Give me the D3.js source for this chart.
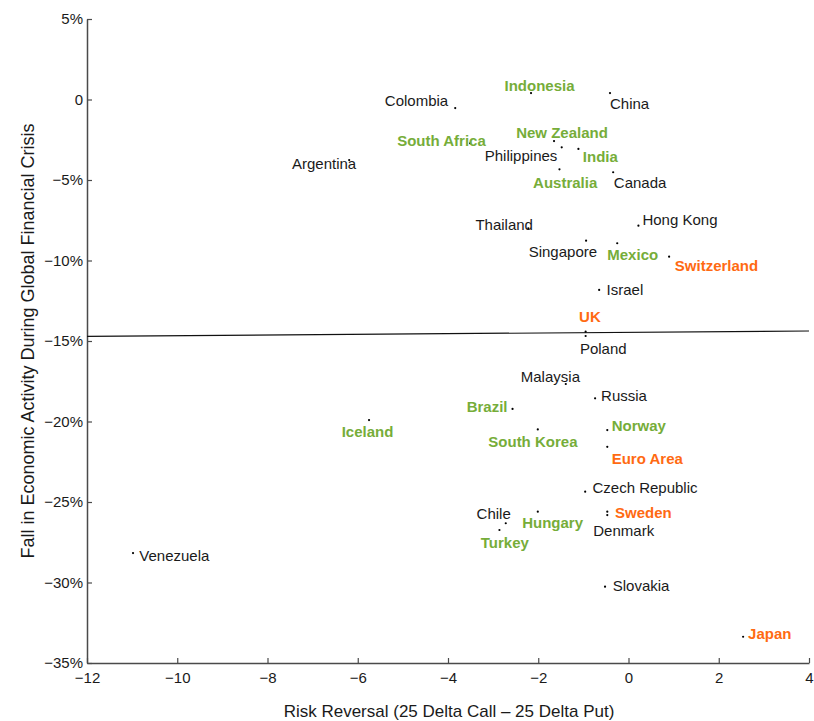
<!DOCTYPE html>
<html>
<head>
<meta charset="utf-8">
<script src="https://cdn.jsdelivr.net/npm/d3@7"></script>
<style>
  html, body { margin: 0; padding: 0; background: #fff; }
  svg { display: block; font-family: "Liberation Sans", Arial, sans-serif; }
</style>
</head>
<body>
<svg id="chart" width="814" height="721"></svg>
<script>
// Economies
const countries = [
  "Colombia", "Indonesia", "China", "South Africa", "New Zealand", "Philippines",
  "India", "Australia", "Canada", "Argentina", "Hong Kong", "Thailand",
  "Singapore", "Mexico", "Switzerland", "Israel", "UK", "Poland",
  "Malaysia", "Russia", "Brazil", "Iceland", "South Korea", "Norway",
  "Euro Area", "Czech Republic", "Sweden", "Denmark", "Hungary", "Chile",
  "Turkey", "Venezuela", "Slovakia", "Japan"
];
// Risk reversal (25 delta call − 25 delta put)
const riskReversal = [
  -3.84, -2.16, -0.41, -3.51, -1.65, -1.48,
  -1.11, -1.53, -0.34, -6.19, 0.22, -2.22,
  -0.94, -0.25, 0.90, -0.65, -0.95, -0.95,
  -1.39, -0.74, -2.57, -5.75, -2.01, -0.47,
  -0.47, -0.96, -0.47, -0.47, -2.01, -2.72,
  -2.86, -10.98, -0.52, 2.54
];
// Fall in economic activity (%)
const activityFall = [
  -0.53, 0.40, 0.40, -2.72, -2.58, -2.97,
  -3.07, -4.34, -4.52, -3.76, -7.84, -8.00,
  -8.77, -8.93, -9.76, -11.83, -14.42, -14.69,
  -17.67, -18.56, -19.22, -19.91, -20.49, -20.53,
  -21.57, -24.36, -25.60, -25.81, -25.60, -26.32,
  -26.74, -28.17, -30.26, -33.37
];
// Label group: 0 = other, 1 = green, 2 = orange
const labelGroup = [
  0, 1, 0, 1, 1, 0,
  1, 1, 0, 0, 0, 0,
  0, 1, 2, 0, 2, 0,
  0, 0, 1, 1, 1, 1,
  2, 0, 2, 0, 1, 0,
  1, 0, 0, 2
];

// Fitted line endpoints
const fitX = [-12, 4];
const fitY = [-14.71, -14.38];

// Axis ticks
const xTicks = [-12, -10, -8, -6, -4, -2, 0, 2, 4];
const yTicks = [5, 0, -5, -10, -15, -20, -25, -30, -35];

// Label placement relative to each point: [dx, dy, anchor]
const labelPlacement = {
  "Colombia": [-7, -2, "end"],
  "Indonesia": [8.5, -2, "middle"],
  "China": [0, 15.5, "start"],
  "South Africa": [15.7, 3, "end"],
  "New Zealand": [8, -3.5, "middle"],
  "Philippines": [-4.4, 13.7, "end"],
  "India": [4.4, 12.7, "start"],
  "Australia": [5.7, 18.4, "middle"],
  "Canada": [0.7, 15.4, "start"],
  "Argentina": [7, 9.3, "end"],
  "Hong Kong": [4, -1, "start"],
  "Thailand": [4.6, 1.7, "end"],
  "Singapore": [11, 16, "end"],
  "Mexico": [15.5, 16.7, "middle"],
  "Switzerland": [5.7, 14.3, "start"],
  "Israel": [7.4, 5, "start"],
  "UK": [4.3, -9.4, "middle"],
  "Poland": [-5.7, 18, "start"],
  "Malaysia": [-15.4, -1.7, "middle"],
  "Russia": [6, 2.4, "start"],
  "Brazil": [-5, 2.7, "end"],
  "Iceland": [-1.5, 17.3, "middle"],
  "South Korea": [-4.9, 18, "middle"],
  "Norway": [4.4, 0.7, "start"],
  "Euro Area": [4.4, 17.3, "start"],
  "Czech Republic": [7.3, 1.6, "start"],
  "Sweden": [7.7, 6, "start"],
  "Denmark": [-14, 20.7, "start"],
  "Hungary": [14.8, 16, "middle"],
  "Chile": [5, -4.3, "end"],
  "Turkey": [5.4, 18.3, "middle"],
  "Venezuela": [6.3, 8.3, "start"],
  "Slovakia": [7.7, 4, "start"],
  "Japan": [5, 2.3, "start"]
};

const groupColor = ["#1a1a1a", "#76ad39", "#ff6a12"];
const groupWeight = ["normal", "bold", "bold"];

const svg = d3.select("#chart");
const plot = { left: 87, right: 809, top: 19, bottom: 663 };

const x = d3.scaleLinear().domain([-12, 4]).range([plot.left, plot.right]);
const y = d3.scaleLinear().domain([-35, 5]).range([plot.bottom, plot.top]);

const fmtY = v => v === 0 ? "0" : (v < 0 ? "\u2212" + Math.abs(v) : v) + "%";
const fmtX = v => v < 0 ? "\u2212" + Math.abs(v) : String(v);

// Left axis with inward ticks
const yAxis = svg.append("g")
  .attr("transform", `translate(${plot.left},0)`)
  .call(d3.axisLeft(y).tickValues(yTicks).tickFormat(fmtY)
    .tickSizeInner(-5).tickSizeOuter(0).tickPadding(4));

// Bottom axis with inward ticks
const xAxis = svg.append("g")
  .attr("transform", `translate(0,${plot.bottom})`)
  .call(d3.axisBottom(x).tickValues(xTicks).tickFormat(fmtX)
    .tickSizeInner(-5).tickSizeOuter(0).tickPadding(9));

[yAxis, xAxis].forEach(g => {
  g.select(".domain").attr("stroke", "#4a4a4a").attr("stroke-width", 1.5);
  g.selectAll(".tick line").attr("stroke", "#4a4a4a").attr("stroke-width", 1.2);
  g.selectAll(".tick text")
    .attr("fill", "#1a1a1a")
    .style("font-size", "15px")
    .style("font-family", "'Liberation Sans', Arial, sans-serif");
});

// Fitted line
svg.append("line")
  .attr("x1", x(fitX[0])).attr("y1", y(fitY[0]))
  .attr("x2", x(fitX[1])).attr("y2", y(fitY[1]))
  .attr("stroke", "#111").attr("stroke-width", 1.2);

// Points
const data = countries.map((name, i) => ({
  name, rr: riskReversal[i], fall: activityFall[i], group: labelGroup[i]
}));

svg.append("g").selectAll("circle")
  .data(data).join("circle")
  .attr("cx", d => x(d.rr))
  .attr("cy", d => y(d.fall))
  .attr("r", 1.1)
  .attr("fill", "#000");

// Labels
svg.append("g").selectAll("text")
  .data(data).join("text")
  .attr("x", d => x(d.rr) + labelPlacement[d.name][0])
  .attr("y", d => y(d.fall) + labelPlacement[d.name][1])
  .attr("text-anchor", d => labelPlacement[d.name][2])
  .attr("fill", d => groupColor[d.group])
  .style("font-weight", d => groupWeight[d.group])
  .style("font-size", "15px")
  .text(d => d.name);

// Axis titles
svg.append("text")
  .attr("x", 449)
  .attr("y", 717)
  .attr("text-anchor", "middle")
  .attr("fill", "#1a1a1a")
  .style("font-size", "17px")
  .text("Risk Reversal (25 Delta Call \u2013 25 Delta Put)");

svg.append("text")
  .attr("transform", `translate(33.5,341) rotate(-90)`)
  .attr("text-anchor", "middle")
  .attr("fill", "#1a1a1a")
  .style("font-size", "18px")
  .text("Fall in Economic Activity During Global Financial Crisis");
</script>
</body>
</html>
